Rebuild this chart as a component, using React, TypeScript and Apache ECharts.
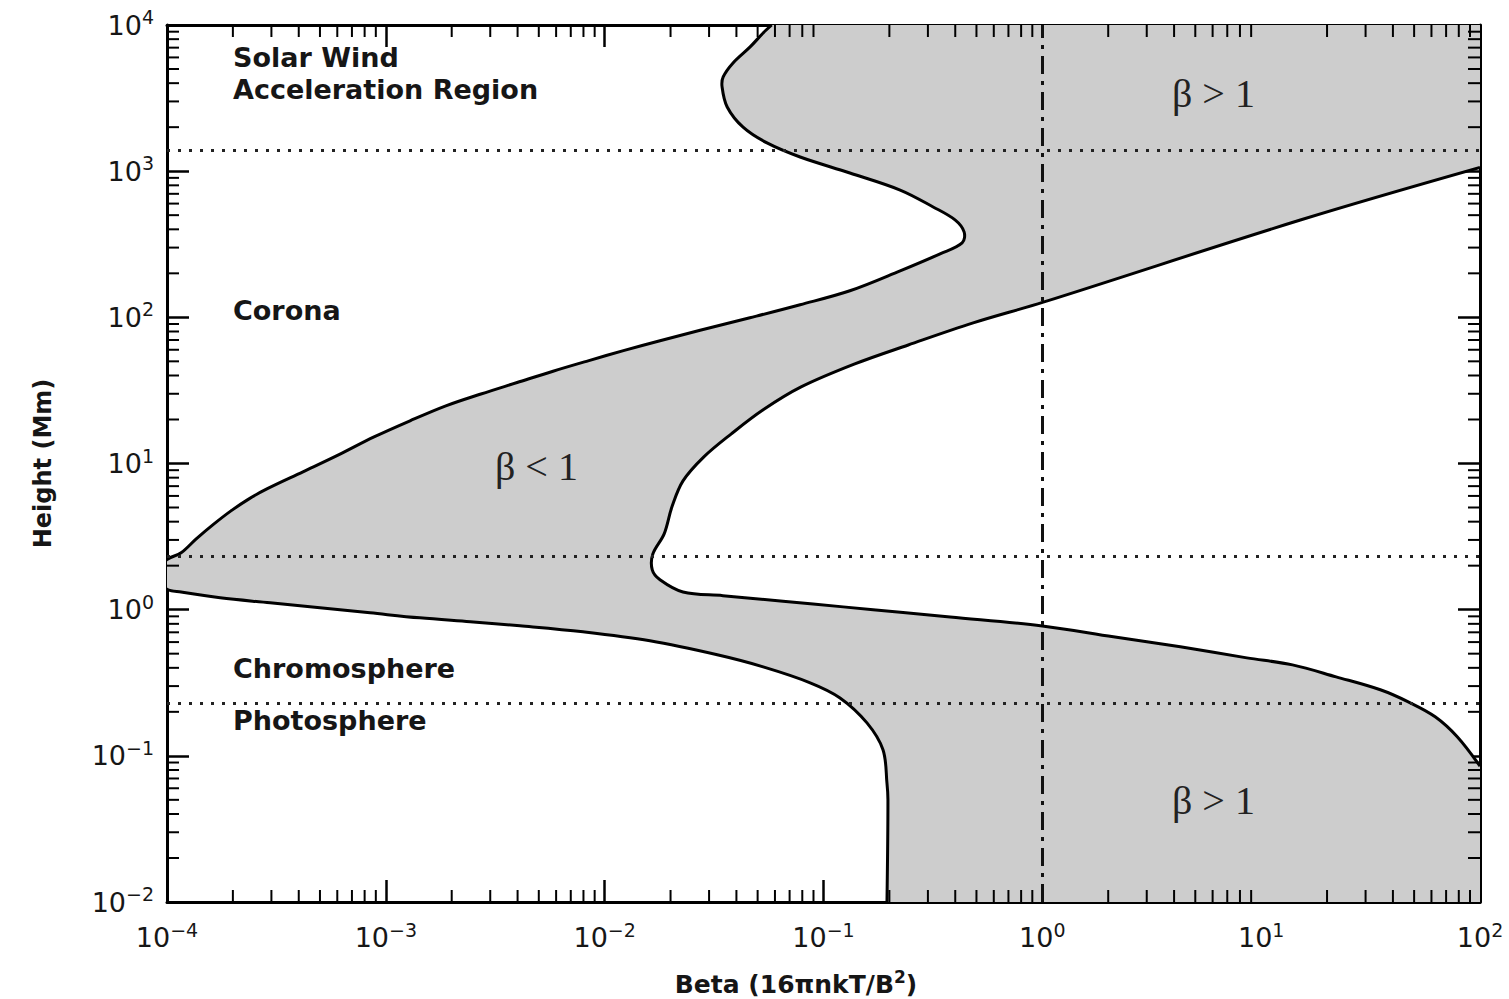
import React, { useEffect, useRef } from "react";
import * as echarts from "echarts";

// Lower/left bound of plasma beta vs height (from bottom to top)
const LEFT_BETA = [0.195, 0.197, 0.195, 0.187, 0.158, 0.119, 0.0869, 0.053, 0.0327, 0.0161, 0.00796, 0.0041, 0.00243, 0.00143, 0.000847, 0.0005, 0.000296, 0.000175, 0.000116, 0.0001, 0.000085, 0.0001, 0.000116, 0.000136, 0.000164, 0.000196, 0.000237, 0.000286, 0.000418, 0.000611, 0.000883, 0.00129, 0.00188, 0.00272, 0.00398, 0.00581, 0.0084, 0.0123, 0.0179, 0.0273, 0.0461, 0.0782, 0.132, 0.224, 0.341, 0.43, 0.439, 0.399, 0.317, 0.224, 0.132, 0.0782, 0.0552, 0.0429, 0.0363, 0.0344, 0.0348, 0.0386, 0.0462, 0.053, 0.058];
const LEFT_H = [0.01, 0.05, 0.065, 0.11, 0.168, 0.249, 0.316, 0.406, 0.491, 0.612, 0.705, 0.775, 0.826, 0.879, 0.951, 1.029, 1.114, 1.205, 1.32, 1.38, 1.7, 2.2, 2.45, 3.05, 3.86, 4.74, 5.73, 6.7, 8.77, 11.5, 15.2, 19.6, 24.8, 29.9, 35.8, 42.8, 50.4, 59.4, 69.2, 81.5, 99.3, 122, 152, 208, 272, 323, 384, 464, 569, 743, 972, 1250, 1560, 2000, 2750, 3770, 4410, 5500, 7080, 8820, 10000];

// Upper/right bound of plasma beta vs height (from bottom to top)
const RIGHT_BETA = [100, 78.7, 62.4, 47, 35.3, 22, 13.9, 8.6, 4.27, 2.11, 1.0, 0.379, 0.231, 0.123, 0.0653, 0.0347, 0.0228, 0.0179, 0.0165, 0.0166, 0.0187, 0.0203, 0.0228, 0.0284, 0.0378, 0.053, 0.079, 0.139, 0.244, 0.483, 1.01, 15.1, 100];
const RIGHT_H = [0.085, 0.135, 0.185, 0.234, 0.282, 0.347, 0.419, 0.468, 0.557, 0.652, 0.774, 0.891, 0.955, 1.045, 1.14, 1.247, 1.32, 1.6, 1.87, 2.4, 3.3, 5.05, 7.6, 11.1, 15.9, 23.3, 33.4, 48, 64.7, 91.6, 127, 463, 1060];

const X_MIN = 1e-4;
const X_MAX = 100;
const Y_MIN = 1e-2;
const Y_MAX = 1e4;
const DOTTED_HEIGHTS = [1400, 2.33, 0.23];
const BETA_ONE = 1;
const X_DECADES = [1e-4, 1e-3, 1e-2, 1e-1, 1, 10];
const Y_DECADES = [1e-2, 1e-1, 1, 10, 100, 1000];
const MINOR_MULT = [2, 3, 4, 5, 6, 7, 8, 9];

const X_MINOR: number[] = [];
X_DECADES.forEach((d) => MINOR_MULT.forEach((m) => X_MINOR.push(d * m)));
const Y_MINOR: number[] = [];
Y_DECADES.forEach((d) => MINOR_MULT.forEach((m) => Y_MINOR.push(d * m)));

const SANS = "DejaVu Sans";
const SERIF = "Liberation Serif";
const INK = "#161616";
const SMOOTH = 0.35;

const tickFormatter = (v: number) => {
  const e = Math.round(Math.log10(v));
  const s = e < 0 ? "\u2212" + Math.abs(e) : String(e);
  return "{b|10}{s|" + s + "}";
};

const tickRich = {
  b: { fontSize: 27, fontFamily: SANS, color: INK },
  s: { fontSize: 19, fontFamily: SANS, color: INK, padding: [0, 0, 16, 0] },
};

export default function App() {
  const ref = useRef<HTMLDivElement>(null);
  useEffect(() => {
    document.body.style.margin = "0";
    const chart = echarts.init(ref.current!, null, { renderer: "svg" });

    const axisCommon = {
      type: "log" as const,
      logBase: 10,
      interval: 1,
      axisLine: { show: true, lineStyle: { color: "#000", width: 3 } },
      axisTick: { show: true, inside: true, length: 22, lineStyle: { color: "#000", width: 2.5 } },
      splitLine: { show: false },
      minorTick: { show: false },
    };

    const minorX = (params: any, api: any) => {
      const v = api.value(0);
      const b = api.coord([v, Y_MIN]);
      const t = api.coord([v, Y_MAX]);
      const st = { stroke: "#000", lineWidth: 2 };
      return {
        type: "group",
        children: [
          { type: "line", shape: { x1: b[0], y1: b[1], x2: b[0], y2: b[1] - 12 }, style: st },
          { type: "line", shape: { x1: t[0], y1: t[1], x2: t[0], y2: t[1] + 12 }, style: st },
        ],
      };
    };
    const minorY = (params: any, api: any) => {
      const v = api.value(1);
      const l = api.coord([X_MIN, v]);
      const r = api.coord([X_MAX, v]);
      const st = { stroke: "#000", lineWidth: 2 };
      return {
        type: "group",
        children: [
          { type: "line", shape: { x1: l[0], y1: l[1], x2: l[0] + 12, y2: l[1] }, style: st },
          { type: "line", shape: { x1: r[0], y1: r[1], x2: r[0] - 12, y2: r[1] }, style: st },
        ],
      };
    };

    // fill between the two bounds + the two bounding curves
    const region = (params: any, api: any) => {
      const left = LEFT_BETA.map((b, i) => api.coord([b, LEFT_H[i]]));
      const right = RIGHT_BETA.map((b, i) => api.coord([b, RIGHT_H[i]]));
      const tr = api.coord([X_MAX, Y_MAX]);
      const br = api.coord([X_MAX, Y_MIN]);
      const pts: number[][] = [];
      // endpoints and corners are doubled so that the smoothing keeps them sharp
      pts.push(left[0].slice());
      left.forEach((p) => pts.push(p));
      pts.push(left[left.length - 1].slice());
      pts.push(tr, tr.slice());
      pts.push(right[right.length - 1].slice());
      for (let i = right.length - 1; i >= 0; i--) pts.push(right[i]);
      pts.push(right[0].slice());
      pts.push(br, br.slice());
      const lineStyle = { stroke: "#000", lineWidth: 3, fill: null };
      return {
        type: "group",
        children: [
          { type: "polygon", shape: { points: pts, smooth: SMOOTH }, style: { fill: "#cdcdcd" } },
          { type: "polyline", shape: { points: left, smooth: SMOOTH }, style: lineStyle },
          { type: "polyline", shape: { points: right, smooth: SMOOTH }, style: lineStyle },
        ],
      };
    };

    const option: any = {
      animation: false,
      backgroundColor: "#fff",
      grid: { left: 167, right: 29, top: 25, bottom: 97, containLabel: false },
      xAxis: [
        {
          ...axisCommon,
          position: "bottom",
          min: X_MIN,
          max: X_MAX,
          axisLabel: { show: true, margin: 18, formatter: tickFormatter, rich: tickRich },
        },
        {
          ...axisCommon,
          position: "top",
          min: X_MIN,
          max: X_MAX,
          axisLabel: { show: false },
        },
      ],
      yAxis: [
        {
          ...axisCommon,
          position: "left",
          min: Y_MIN,
          max: Y_MAX,
          axisLabel: { show: true, margin: 13, formatter: tickFormatter, rich: tickRich },
          name: "Height (Mm)",
          nameLocation: "middle",
          nameGap: 112,
          nameTextStyle: { fontFamily: SANS, fontSize: 24, fontWeight: "bold", color: INK },
        },
        {
          ...axisCommon,
          position: "right",
          min: Y_MIN,
          max: Y_MAX,
          axisLabel: { show: false },
        },
      ],
      series: [
        {
          type: "custom",
          coordinateSystem: "cartesian2d",
          data: [[1, 1]],
          renderItem: region,
          clip: true,
          silent: true,
          z: 1,
        },
        {
          type: "line",
          data: [],
          showSymbol: false,
          silent: true,
          z: 4,
          markLine: {
            silent: true,
            symbol: ["none", "none"],
            label: { show: false },
            data: [
              ...DOTTED_HEIGHTS.map((h) => ({ yAxis: h, lineStyle: { type: [3, 8], width: 3, color: "#222" } })),
              { xAxis: BETA_ONE, lineStyle: { type: [18, 7, 4, 7], width: 3, color: "#111" } },
            ],
          },
        },
        {
          type: "custom",
          coordinateSystem: "cartesian2d",
          data: X_MINOR.map((v) => [v, 1]),
          renderItem: minorX,
          clip: false,
          silent: true,
          z: 6,
        },
        {
          type: "custom",
          coordinateSystem: "cartesian2d",
          data: Y_MINOR.map((v) => [1, v]),
          renderItem: minorY,
          clip: false,
          silent: true,
          z: 6,
        },
      ],
      graphic: {
        elements: [
          { type: "text", z: 20, x: 233, y: 57, style: { text: "Solar Wind", font: `bold 27px "${SANS}"`, fill: INK, textVerticalAlign: "middle" } },
          { type: "text", z: 20, x: 233, y: 89, style: { text: "Acceleration Region", font: `bold 27px "${SANS}"`, fill: INK, textVerticalAlign: "middle" } },
          { type: "text", z: 20, x: 233, y: 310, style: { text: "Corona", font: `bold 27px "${SANS}"`, fill: INK, textVerticalAlign: "middle" } },
          { type: "text", z: 20, x: 233, y: 668, style: { text: "Chromosphere", font: `bold 27px "${SANS}"`, fill: INK, textVerticalAlign: "middle" } },
          { type: "text", z: 20, x: 233, y: 720, style: { text: "Photosphere", font: `bold 27px "${SANS}"`, fill: INK, textVerticalAlign: "middle" } },
          { type: "text", z: 20, x: 495, y: 466, style: { text: "\u03b2 < 1", font: `40px "${SERIF}"`, fill: "#222", textVerticalAlign: "middle" } },
          { type: "text", z: 20, x: 1172, y: 93, style: { text: "\u03b2 > 1", font: `40px "${SERIF}"`, fill: "#222", textVerticalAlign: "middle" } },
          { type: "text", z: 20, x: 1172, y: 800, style: { text: "\u03b2 > 1", font: `40px "${SERIF}"`, fill: "#222", textVerticalAlign: "middle" } },
          {
            type: "text",
            z: 20,
            x: 796,
            y: 984,
            style: {
              text: "{a|Beta (16\u03c0nkT/B}{s|2}{a|)}",
              textAlign: "center",
              textVerticalAlign: "middle",
              rich: {
                a: { fontFamily: SANS, fontSize: 25, fontWeight: "bold", fill: INK, color: INK },
                s: { fontFamily: SANS, fontSize: 17, fontWeight: "bold", fill: INK, color: INK, padding: [0, 0, 14, 0] },
              },
            },
          },
        ],
      },
    };

    chart.setOption(option);
    return () => chart.dispose();
  }, []);

  return <div ref={ref} style={{ width: 1509, height: 999 }} />;
}
